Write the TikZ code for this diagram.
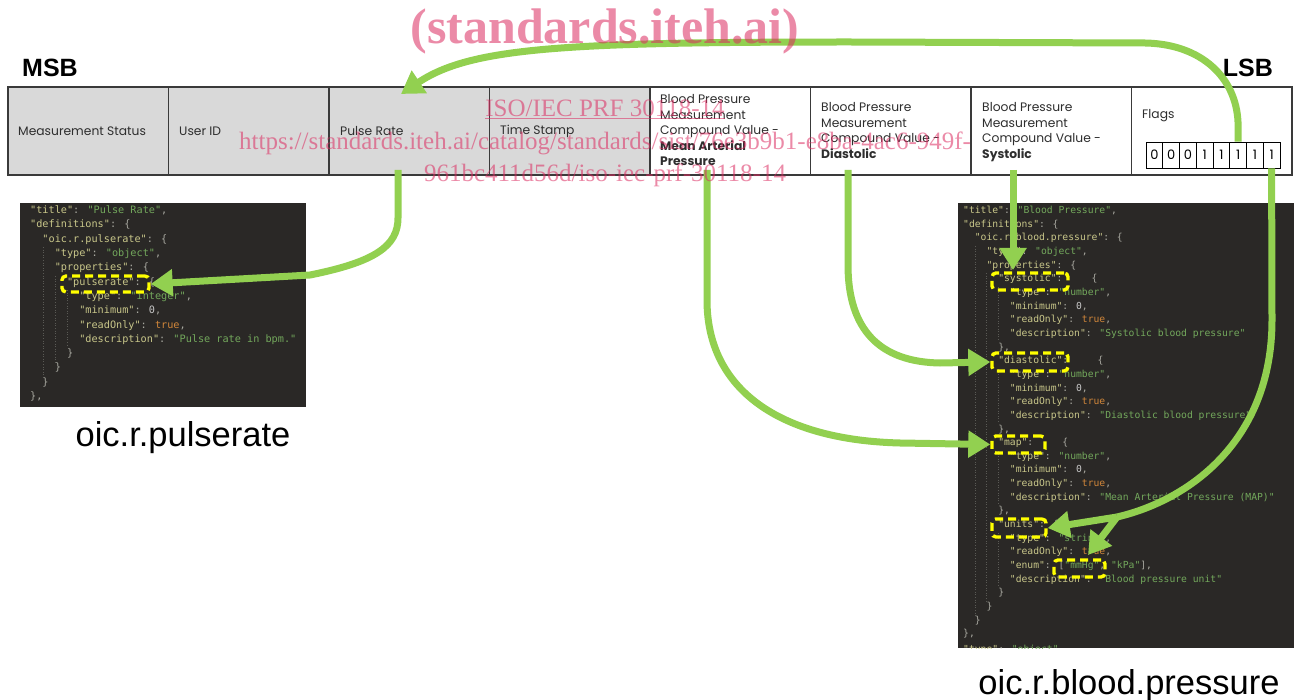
\documentclass[tikz,border=0pt]{standalone}
\usepackage{fontspec}
\setmainfont{Liberation Sans}
\newfontfamily\cgfont{Poppins}
\newfontfamily\monofont{DejaVu Sans Mono}
\newfontfamily\wmfont{Liberation Serif}
\usetikzlibrary{arrows.meta}
\definecolor{barline}{HTML}{3A3A3A}
\definecolor{cellgray}{HTML}{D9D9D9}
\definecolor{celltext}{HTML}{2E2E2E}
\definecolor{codebg}{HTML}{2A2826}
\definecolor{ckey}{HTML}{C9C78A}
\definecolor{cstr}{HTML}{73A85C}
\definecolor{cpun}{HTML}{A8A8A0}
\definecolor{ctrue}{HTML}{D2873A}
\definecolor{cnum}{HTML}{C8C8C8}
\definecolor{cguide}{HTML}{5A5A55}
\definecolor{agreen}{HTML}{92D050}
\definecolor{ydash}{HTML}{FFFF00}
\definecolor{wmpink}{HTML}{DC2A60}
\newcommand\Kq[1]{\textcolor{ckey}{"#1"}}
\newcommand\Sq[1]{\textcolor{cstr}{"#1"}}
\newcommand\Tq{\textcolor{ctrue}{true}}
\newcommand\Nq{\textcolor{cnum}{0}}
\begin{document}
\begin{tikzpicture}[x=1pt,y=-1pt,
  cellbox/.style={draw=barline,line width=1.4pt,minimum width=160.5pt,minimum height=88pt,inner sep=0pt},
  celltxt/.style={font=\cgfont\fontsize{12.3}{15.5}\selectfont,text=celltext,inner sep=0pt,align=left},
  bitbox/.style={draw=black,line width=0.9pt,minimum width=16.75pt,minimum height=26pt,inner sep=0pt,font=\cgfont\fontsize{13}{13}\selectfont},
  bitword/.style={font=\bfseries\fontsize{25}{25}\selectfont,text=black,inner sep=0pt},
  codeL/.style={font=\monofont\fontsize{10.2}{10}\selectfont,text=cpun,inner sep=0pt,anchor=mid west},
  codeR/.style={font=\monofont\fontsize{9.7}{10}\selectfont,text=cpun,inner sep=0pt,anchor=mid west},
  guide/.style={draw=cguide,line width=0.8pt,dash pattern=on 1pt off 1.6pt},
  ybox/.style={draw=ydash,line width=3.4pt,dash pattern=on 8pt off 5pt,rounded corners=4pt,inner sep=0pt},
  garrow/.style={draw=agreen,line width=7pt,-{Triangle[length=22pt,width=26pt]}},
  gline/.style={draw=agreen,line width=7pt},
  biglabel/.style={font=\fontsize{34.5}{34.5}\selectfont,text=black,inner sep=0pt},
  wmark/.style={text=wmpink,text opacity=0.55,inner sep=0pt}
]
\useasboundingbox[fill=white] (0,0) rectangle (1301,700);

% ---------- top bar ----------
\node[cellbox,fill=cellgray] (c1) at (88.25,131) {};
\node[cellbox,fill=cellgray] (c2) at (248.75,131) {};
\node[cellbox,fill=cellgray] (c3) at (409.25,131) {};
\node[cellbox,fill=cellgray] (c4) at (569.75,131) {};
\node[cellbox] (c5) at (730.25,131) {};
\node[cellbox] (c6) at (890.75,131) {};
\node[cellbox] (c7) at (1051.25,131) {};
\node[cellbox] (c8) at (1211.75,131) {};

\node[celltxt,anchor=west] (t1) at (18,131) {Measurement Status};
\node[celltxt,anchor=west] (t2) at (179,131) {User ID};
\node[celltxt,anchor=west] (t3) at (340,131) {Pulse Rate};
\node[celltxt,anchor=west] (t4) at (500,131) {Time Stamp};
\node[celltxt,anchor=north west] (t5) at (660,94.5) {Blood Pressure\\Measurement\\Compound Value -\\\textbf{Mean Arterial}\\\textbf{Pressure}};
\node[celltxt,anchor=north west] (t6) at (821,102.5) {Blood Pressure\\Measurement\\Compound Value -\\\textbf{Diastolic}};
\node[celltxt,anchor=north west] (t7) at (982,102.5) {Blood Pressure\\Measurement\\Compound Value -\\\textbf{Systolic}};
\node[celltxt,anchor=west] (t8) at (1142,116) {Flags};

\node[bitbox] (b1) at (1154.4,155) {0};
\node[bitbox] (b2) at (1171.1,155) {0};
\node[bitbox] (b3) at (1187.9,155) {0};
\node[bitbox] (b4) at (1204.6,155) {1};
\node[bitbox] (b5) at (1221.4,155) {1};
\node[bitbox] (b6) at (1238.1,155) {1};
\node[bitbox] (b7) at (1254.9,155) {1};
\node[bitbox] (b8) at (1271.6,155) {1};

\node[bitword,anchor=west] (msb) at (22,68) {MSB};
\node[bitword,anchor=east] (lsb) at (1273,68) {LSB};

% ---------- left code panel ----------
\fill[codebg] (20,203) rectangle (306,407);
\draw[guide] (43,247) -- (43,376);
\draw[guide] (55,276) -- (55,362);
\draw[guide] (67,290) -- (67,347);
\node[codeL] (l0) at (30,211) {\Kq{title}: \Sq{Pulse Rate},};
\node[codeL] (l1) at (30,225.3) {\Kq{definitions}: \{};
\node[codeL] (l2) at ({30+2*6.14},239.6) {\Kq{oic.r.pulserate}: \{};
\node[codeL] (l3) at ({30+4*6.14},253.9) {\Kq{type}: \Sq{object},};
\node[codeL] (l4) at ({30+4*6.14},268.2) {\Kq{properties}: \{};
\node[codeL] (l5) at ({30+6*6.14},282.5) {\Kq{pulserate}: \{};
\node[codeL] (l6) at ({30+8*6.14},296.8) {\Kq{type}: \Sq{integer},};
\node[codeL] (l7) at ({30+8*6.14},311.1) {\Kq{minimum}: \Nq,};
\node[codeL] (l8) at ({30+8*6.14},325.4) {\Kq{readOnly}: \Tq,};
\node[codeL] (l9) at ({30+8*6.14},339.7) {\Kq{description}: \Sq{Pulse rate in bpm.}};
\node[codeL] (l10) at ({30+6*6.14},354) {\}};
\node[codeL] (l11) at ({30+4*6.14},368.3) {\}};
\node[codeL] (l12) at ({30+2*6.14},382.6) {\}};
\node[codeL] (l13) at (30,396.9) {\},};

% ---------- right code panel ----------
\fill[codebg] (958,203) rectangle (1294,648);
\draw[guide] (975,246) -- (975,616);
\draw[guide] (986.5,273) -- (986.5,602);
\draw[guide] (998,287) -- (998,341);
\draw[guide] (998,369) -- (998,423);
\draw[guide] (998,451) -- (998,505);
\draw[guide] (998,533) -- (998,587);
\begin{scope}
\clip (958,203) rectangle (1294,648);
\node[codeR] (r0) at (963,211) {\Kq{title}: \Sq{Blood Pressure},};
\node[codeR] (r1) at (963,224.65) {\Kq{definitions}: \{};
\node[codeR] (r2) at ({963+2*5.84},238.3) {\Kq{oic.r.blood.pressure}: \{};
\node[codeR] (r3) at ({963+4*5.84},251.95) {\Kq{type}: \Sq{object},};
\node[codeR] (r4) at ({963+4*5.84},265.6) {\Kq{properties}: \{};
\node[codeR] (r5) at ({963+6*5.84},279.25) {\Kq{systolic}:\ \ \ \ \ \{};
\node[codeR] (r6) at ({963+8*5.84},292.9) {\Kq{type}: \Sq{number},};
\node[codeR] (r7) at ({963+8*5.84},306.55) {\Kq{minimum}: \Nq,};
\node[codeR] (r8) at ({963+8*5.84},320.2) {\Kq{readOnly}: \Tq,};
\node[codeR] (r9) at ({963+8*5.84},333.85) {\Kq{description}: \Sq{Systolic blood pressure}};
\node[codeR] (r10) at ({963+6*5.84},347.5) {\},};
\node[codeR] (r11) at ({963+6*5.84},361.15) {\Kq{diastolic}:\ \ \ \ \ \{};
\node[codeR] (r12) at ({963+8*5.84},374.8) {\Kq{type}: \Sq{number},};
\node[codeR] (r13) at ({963+8*5.84},388.45) {\Kq{minimum}: \Nq,};
\node[codeR] (r14) at ({963+8*5.84},402.1) {\Kq{readOnly}: \Tq,};
\node[codeR] (r15) at ({963+8*5.84},415.75) {\Kq{description}: \Sq{Diastolic blood pressure}};
\node[codeR] (r16) at ({963+6*5.84},429.4) {\},};
\node[codeR] (r17) at ({963+6*5.84},443.05) {\Kq{map}:\ \ \ \ \ \{};
\node[codeR] (r18) at ({963+8*5.84},456.7) {\Kq{type}: \Sq{number},};
\node[codeR] (r19) at ({963+8*5.84},470.35) {\Kq{minimum}: \Nq,};
\node[codeR] (r20) at ({963+8*5.84},484) {\Kq{readOnly}: \Tq,};
\node[codeR] (r21) at ({963+8*5.84},497.65) {\Kq{description}: \Sq{Mean Arterial Pressure (MAP)}};
\node[codeR] (r22) at ({963+6*5.84},511.3) {\},};
\node[codeR] (r23) at ({963+6*5.84},524.95) {\Kq{units}: \{};
\node[codeR] (r24) at ({963+8*5.84},538.6) {\Kq{type}: \Sq{string},};
\node[codeR] (r25) at ({963+8*5.84},552.25) {\Kq{readOnly}: \Tq,};
\node[codeR] (r26) at ({963+8*5.84},565.9) {\Kq{enum}: [\Sq{mmHg}, \Sq{kPa}],};
\node[codeR] (r27) at ({963+8*5.84},579.55) {\Kq{description}: \Sq{Blood pressure unit}};
\node[codeR] (r28) at ({963+6*5.84},593.2) {\}};
\node[codeR] (r29) at ({963+4*5.84},606.85) {\}};
\node[codeR] (r30) at ({963+2*5.84},620.5) {\}};
\node[codeR] (r31) at (963,634.15) {\},};
\node[codeR] (r32) at (963,649.5) {\Kq{type}: \Sq{object}};
\end{scope}

% ---------- highlight boxes ----------
\node[ybox,minimum width=87pt,minimum height=16pt] (pbox) at (105.5,284) {};
\node[ybox,minimum width=76pt,minimum height=17pt] (sbox) at (1030,281.5) {};
\node[ybox,minimum width=76pt,minimum height=18pt] (dbox) at (1030,362) {};
\node[ybox,minimum width=53pt,minimum height=17pt] (mbox) at (1018.5,444.5) {};
\node[ybox,minimum width=54pt,minimum height=18pt] (ubox) at (1019,528) {};
\node[ybox,minimum width=51pt,minimum height=17pt] (hbox) at (1079.5,568.5) {};

% ---------- labels ----------
\node[biglabel] (lab1) at (183,438) {oic.r.pulserate};
\node[biglabel] (lab2) at (1129,686) {oic.r.blood.pressure};

% ---------- arrows ----------
\coordinate (prtip) at (401,94);
\coordinate (prout) at (398,170);
\coordinate (mapout) at (707,170);
\coordinate (diaout) at (848,170);
\coordinate (sysout) at (1013,170);
\coordinate (systip) at (1013,270);
\coordinate (split) at (1117,517);
\coordinate (mmtip) at (1088,555);

\draw[garrow] (b6.north) -- (1238,122) .. controls (1236,78) and (1202,44) .. (1145,43)
  -- (850,42) .. controls (560,42) and (470,48) .. (prtip);
\draw[garrow] (prout) -- (398,218) .. controls (398,246) and (375,262) .. (310,275) -- (pbox.east);
\draw[garrow] (mapout) -- (707,300) .. controls (707,390) and (780,440) .. (900,443) -- (mbox.west);
\draw[garrow] (diaout) -- (848,265) .. controls (848,330) and (880,362) .. (940,363) -- (dbox.west);
\draw[garrow] (sysout) -- (systip);
\draw[gline] (b8.south) -- (1272,320) .. controls (1272,440) and (1190,500) .. (split);
\draw[garrow] (split) -- (ubox.east);
\draw[garrow] (split) -- (mmtip);

% ---------- watermark ----------
\node[wmark,font=\wmfont\bfseries\fontsize{50}{50}\selectfont] (wm1) at (605,31) {(standards.iteh.ai)};
\node[wmark,font=\wmfont\fontsize{25}{25}\selectfont,anchor=base] (wm2) at (605,117) {\underline{ISO/IEC PRF 30118-14}};
\node[wmark,font=\wmfont\fontsize{25}{25}\selectfont,anchor=base] (wm3) at (605,150) {https://standards.iteh.ai/catalog/standards/sist/76e3b9b1-e8ba-4ac6-949f-};
\node[wmark,font=\wmfont\fontsize{25}{25}\selectfont,anchor=base] (wm4) at (605,182) {961bc411d56d/iso-iec-prf-30118-14};
\end{tikzpicture}
\end{document}
